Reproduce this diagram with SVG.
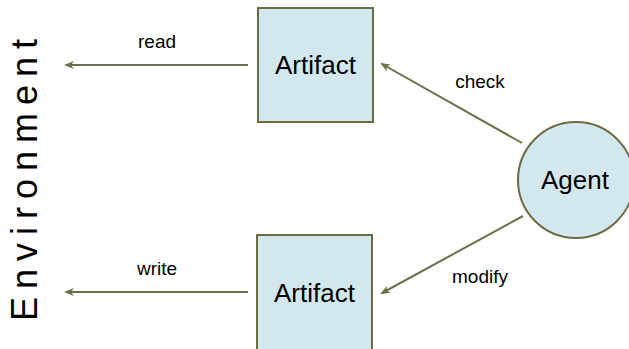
<svg xmlns="http://www.w3.org/2000/svg" width="629" height="349" viewBox="0 0 629 349">
<style>
.node{fill:#d2e8ee;stroke:#6b6b42;stroke-width:2}
.edge{stroke:#6b7048;stroke-width:2;fill:none;marker-end:url(#ah)}
.t{font-family:"Liberation Sans",Arial,sans-serif;fill:#000}
.lbl{font-size:19px;text-anchor:middle}
.big{font-size:26px;text-anchor:middle}
</style>
<defs>
<marker id="ah" viewBox="0 0 10 10" refX="8" refY="5" markerWidth="5" markerHeight="5" orient="auto" markerUnits="strokeWidth">
<path d="M0,1 L10,5 L0,9 L3,5 Z" fill="#6b7048"/>
</marker>
</defs>
<rect width="629" height="349" fill="#fff"/>
<text class="t" transform="translate(37,321) rotate(-90)" font-size="36" letter-spacing="8">Environment</text>
<g id="artifact1">
<rect class="node" x="258" y="8" width="115" height="114"/>
<text class="t big" x="315.5" y="74">Artifact</text>
</g>
<g id="artifact2">
<rect class="node" x="257" y="235" width="115" height="116"/>
<text class="t big" x="314.5" y="302">Artifact</text>
</g>
<g id="agent">
<circle class="node" cx="576" cy="180" r="58"/>
<text class="t big" x="575" y="189">Agent</text>
</g>
<g id="connectors">
<line class="edge" x1="248" y1="65" x2="66" y2="65"/>
<line class="edge" x1="248" y1="292" x2="66" y2="292"/>
<line class="edge" x1="522" y1="143" x2="382" y2="64"/>
<line class="edge" x1="523" y1="216" x2="382" y2="293"/>
<text class="t lbl" x="157" y="48">read</text>
<text class="t lbl" x="157" y="275">write</text>
<text class="t lbl" x="480" y="88">check</text>
<text class="t lbl" x="480" y="283">modify</text>
</g>
</svg>
